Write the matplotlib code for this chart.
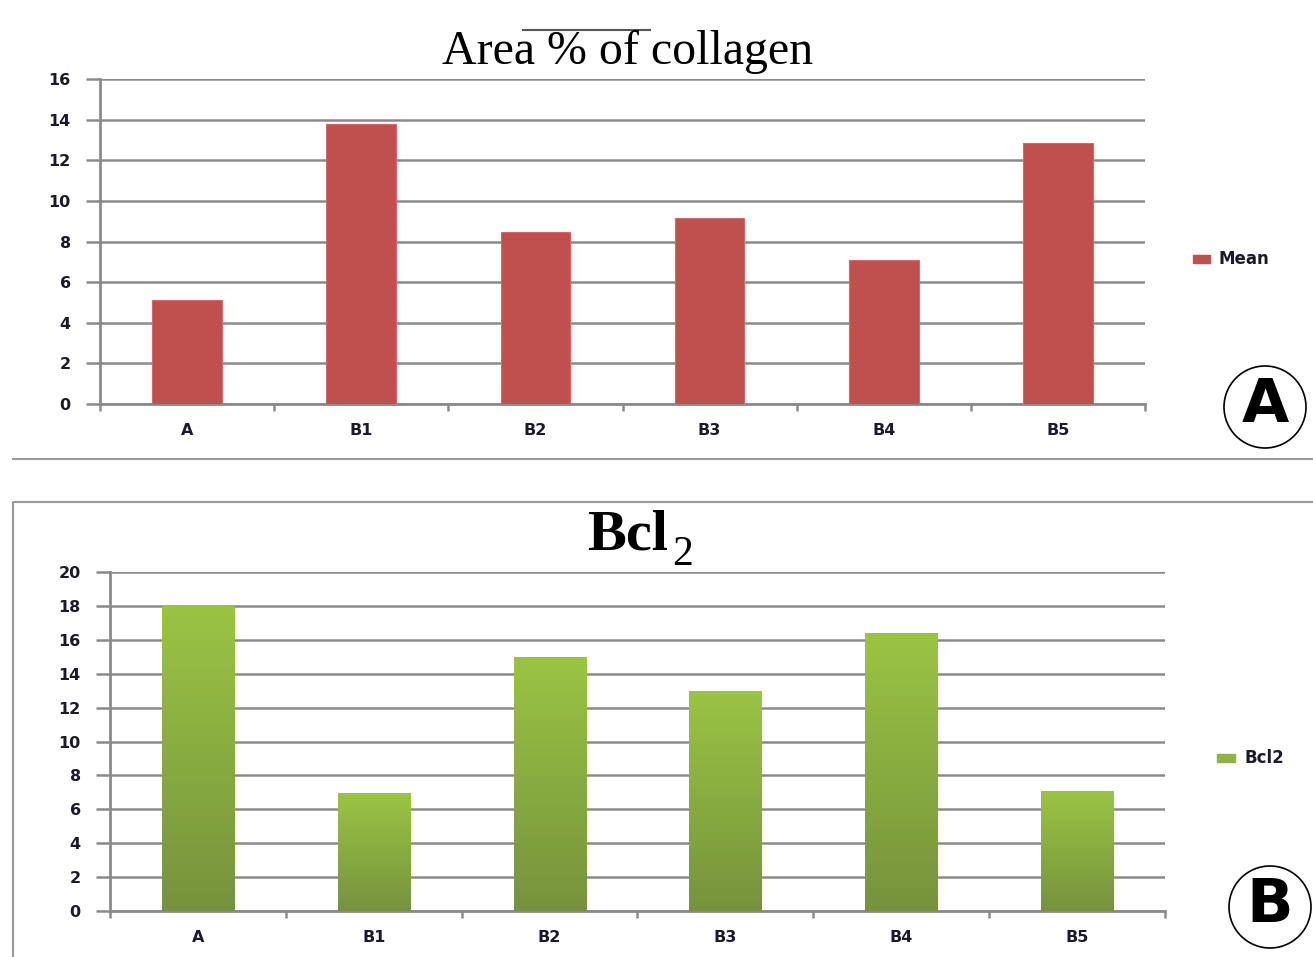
import matplotlib
matplotlib.use("Agg")
import matplotlib.pyplot as plt
import numpy as np
from matplotlib.patches import Rectangle
from matplotlib.lines import Line2D
from matplotlib.colors import LinearSegmentedColormap

categories = ["A", "B1", "B2", "B3", "B4", "B5"]
collagen_mean = [5.12, 13.8, 8.47, 9.16, 7.09, 12.85]
bcl2_values = [18.0, 6.96, 14.98, 12.98, 16.4, 7.08]
collagen_ticks = [0, 2, 4, 6, 8, 10, 12, 14, 16]
bcl2_ticks = [0, 2, 4, 6, 8, 10, 12, 14, 16, 18, 20]

W, H = 1313, 957
fig = plt.figure(figsize=(W / 100, H / 100), dpi=100)
fig.patch.set_facecolor("white")

GRID = "#8a8a8a"
TICKFONT = dict(family="DejaVu Sans", weight="bold", size=11.5, color="#1a1a2a")


def fx(px):
    return px / W


def fy(py):
    return 1 - py / H


def style_axes(ax, ticks, vals):
    n = len(vals)
    ax.set_xlim(-0.5, n - 0.5)
    ax.set_ylim(ticks[0], ticks[-1])
    ax.set_yticks(ticks)
    ax.set_yticklabels([str(t) for t in ticks], fontdict=TICKFONT)
    ax.yaxis.grid(True, color=GRID, linewidth=1.8)
    ax.set_axisbelow(True)
    for s in ["top", "right"]:
        ax.spines[s].set_visible(False)
    for s in ["left", "bottom"]:
        ax.spines[s].set_color(GRID)
        ax.spines[s].set_linewidth(2)
    ax.tick_params(axis="y", length=10, width=1.8, color=GRID, pad=11)
    ax.set_xticks(np.arange(-0.5, n, 1.0))
    ax.set_xticklabels([""] * (n + 1))
    ax.tick_params(axis="x", which="major", length=5, width=1.8, color=GRID)
    ax.set_xticks(np.arange(n), minor=True)
    ax.set_xticklabels(categories, minor=True, fontdict=TICKFONT)
    ax.tick_params(axis="x", which="minor", length=0, pad=14)


# ---------- Chart A ----------
axA = fig.add_axes([fx(100), fy(404), fx(1145) - fx(100), fy(79) - fy(404)])
axA.bar(np.arange(len(categories)), collagen_mean, width=0.40, color="#C0504D",
        edgecolor="#d46a66", linewidth=0.8, zorder=3)
style_axes(axA, collagen_ticks, collagen_mean)

fig.text(fx(628), fy(64), "Area % of collagen", ha="center", va="baseline",
         family="Liberation Serif", fontsize=34.5, color="black")
fig.add_artist(Line2D([fx(523), fx(650)], [fy(30), fy(30)], color="#555555", linewidth=1.5))

# legend A
fig.add_artist(Rectangle((fx(1193), fy(263)), fx(17), 8 / H, color="#C0504D"))
fig.text(fx(1218), fy(259), "Mean", ha="left", va="center", family="DejaVu Sans",
         weight="bold", fontsize=12, color="#1a1a2a")

# divider
fig.add_artist(Line2D([fx(13), fx(1313)], [fy(459), fy(459)], color="#9a9a9a", linewidth=1.5))

# circled A
circA = plt.Circle((1265, H - 407), 41, transform=None, fill=False, color="black", linewidth=1.2)
fig.add_artist(circA)
fig.text(fx(1265), fy(405), "A", ha="center", va="center", family="DejaVu Sans",
         weight="bold", fontsize=44, color="black")

# ---------- Chart B ----------
fig.add_artist(Line2D([fx(13), fx(13), fx(1313)], [fy(957), fy(502), fy(502)],
                      color="#9a9a9a", linewidth=1.5))

axB = fig.add_axes([fx(110), fy(911), fx(1165) - fx(110), fy(572) - fy(911)])
barsB = axB.bar(np.arange(len(categories)), bcl2_values, width=0.41, color="#8db443",
                linewidth=0, zorder=3)
style_axes(axB, bcl2_ticks, bcl2_values)

green_cmap = LinearSegmentedColormap.from_list("g", ["#76933c", "#9bc444"])
grad = np.linspace(0, 1, 256).reshape(-1, 1)
for b in barsB:
    x0, w, h = b.get_x(), b.get_width(), b.get_height()
    im = axB.imshow(grad, cmap=green_cmap, origin="lower", aspect="auto",
                    extent=[x0, x0 + w, 0, h], zorder=4)
    im.set_clip_path(b)
axB.set_xlim(-0.5, len(categories) - 0.5)
axB.set_ylim(bcl2_ticks[0], bcl2_ticks[-1])

fig.text(fx(668), fy(549), "Bcl", ha="right", va="baseline",
         family="Liberation Serif", weight="bold", fontsize=42, color="black")
fig.text(fx(672), fy(565), "2", ha="left", va="baseline",
         family="Liberation Serif", fontsize=30, color="black")

# legend B
fig.add_artist(Rectangle((fx(1217), fy(762)), fx(18), 8 / H, color="#8db443"))
fig.text(fx(1244), fy(758), "Bcl2", ha="left", va="center", family="DejaVu Sans",
         weight="bold", fontsize=12, color="#1a1a2a")

circB = plt.Circle((1270, H - 907), 41, transform=None, fill=False, color="black", linewidth=1.2)
fig.add_artist(circB)
fig.text(fx(1270), fy(905), "B", ha="center", va="center", family="DejaVu Sans",
         weight="bold", fontsize=44, color="black")

fig.savefig("out.png", dpi=100, facecolor="white")
